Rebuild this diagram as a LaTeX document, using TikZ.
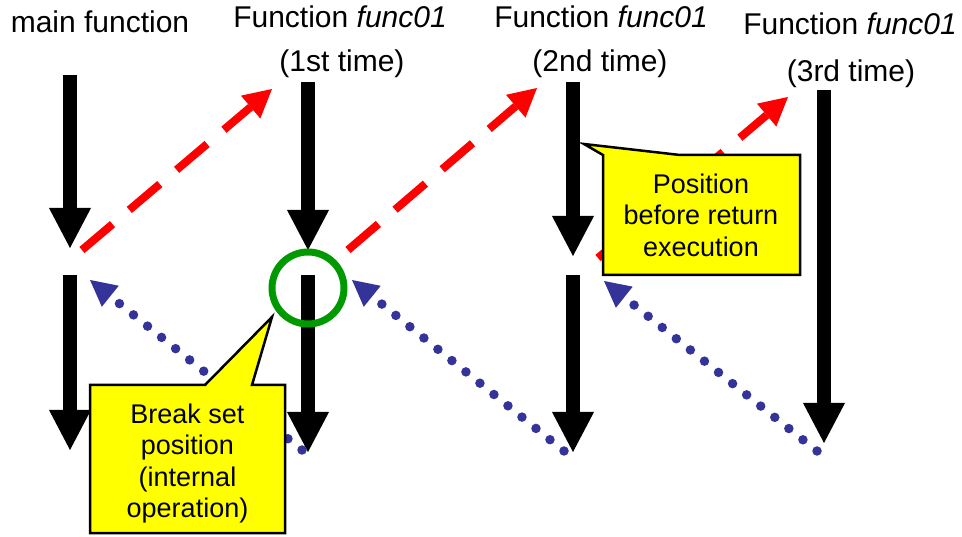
\documentclass[tikz,border=0pt]{standalone}
\usepackage{fontspec}
\setmainfont{Liberation Sans}
\usetikzlibrary{arrows.meta}
\definecolor{flowred}{HTML}{FF0000}
\definecolor{retblue}{HTML}{333399}
\definecolor{brkgreen}{HTML}{009900}
\definecolor{noteyellow}{HTML}{FFFF00}

\begin{document}
\begin{tikzpicture}[x=1pt,y=-1pt,
  head/.style={font=\fontsize{30}{36}\selectfont, anchor=base, inner sep=0pt},
  flow/.style={line width=14pt, -{Triangle[width=42pt,length=40pt,line width=0pt]}},
  callarrow/.style={flowred, line width=8pt, dash pattern=on 40pt off 22pt,
    -{Triangle[width=30pt,length=28pt,line width=0pt]}},
  retarrow/.style={retblue, line width=9.5pt, line cap=round, dash pattern=on 0pt off 18pt,
    -{Triangle[width=27pt,length=26pt,line width=0pt]}},
  note/.style={fill=noteyellow, draw=black, line width=2.5pt, line join=miter},
  notetext/.style={font=\fontsize{27}{31.5}\selectfont, align=center, inner sep=0pt, anchor=north}
]
\useasboundingbox (0,0) rectangle (962,537);

% column headings
\node[head] (hmain) at (100,33) {main function};
\node[head] (hfa) at (340,28) {Function \textit{func01}};
\node[head] (hfat) at (342,72) {(1st time)};
\node[head] (hfb) at (601,28) {Function \textit{func01}};
\node[head] (hfbt) at (600,72) {(2nd time)};
\node[head] (hfc) at (850,35) {Function \textit{func01}};
\node[head] (hfct) at (851,82) {(3rd time)};

% execution flow end points
\coordinate (m1s) at (70,75);   \coordinate (m1e) at (70,248);
\coordinate (m2s) at (70,275);  \coordinate (m2e) at (70,450);
\coordinate (a1s) at (308,82);  \coordinate (a1e) at (308,250);
\coordinate (a2s) at (308,275); \coordinate (a2e) at (308,452);
\coordinate (b1s) at (573,82);  \coordinate (b1e) at (573,256);
\coordinate (b2s) at (573,275); \coordinate (b2e) at (573,452);
\coordinate (c1s) at (824,90);  \coordinate (c1e) at (824,443);

% call and return end points
\coordinate (call1s) at (82,250);  \coordinate (call1e) at (272,89);
\coordinate (call2s) at (348,250); \coordinate (call2e) at (537,88);
\coordinate (call3s) at (598,258); \coordinate (call3e) at (788,97);
\coordinate (ret1s) at (302,450);  \coordinate (ret1e) at (90,280);
\coordinate (ret2s) at (564,451);  \coordinate (ret2e) at (352,280);
\coordinate (ret3s) at (817,451);  \coordinate (ret3e) at (604,281);

% execution flow inside each function
\draw[flow] (m1s) -- (m1e);
\draw[flow] (m2s) -- (m2e);
\draw[flow] (a1s) -- (a1e);
\draw[flow] (a2s) -- (a2e);
\draw[flow] (b1s) -- (b1e);
\draw[flow] (b2s) -- (b2e);
\draw[flow] (c1s) -- (c1e);

% calls
\draw[callarrow] (call1s) -- (call1e);
\draw[callarrow] (call2s) -- (call2e);
\draw[callarrow] (call3s) -- (call3e);

% returns
\draw[retarrow] (ret1s) -- (ret1e);
\draw[retarrow] (ret2s) -- (ret2e);
\draw[retarrow] (ret3s) -- (ret3e);

% break point marker
\node[circle, draw=brkgreen, line width=7pt, minimum size=72pt, inner sep=0pt] (brk) at (308,288) {};

% callout: break set position
\draw[note] (90,385) -- (205,385) -- (272,317) -- (252,385) -- (285,385)
  -- (285,533) -- (90,533) -- cycle;
\node[notetext] (brktext) at (187.5,403.5) {Break set\\position\\(internal\\operation)};

% callout: position before return
\draw[note] (603,275) -- (603,155) -- (584,144) -- (680,155) -- (800,155)
  -- (800,275) -- cycle;
\node[notetext] (rettext) at (701,173.3) {Position\\before return\\execution};
\end{tikzpicture}
\end{document}
